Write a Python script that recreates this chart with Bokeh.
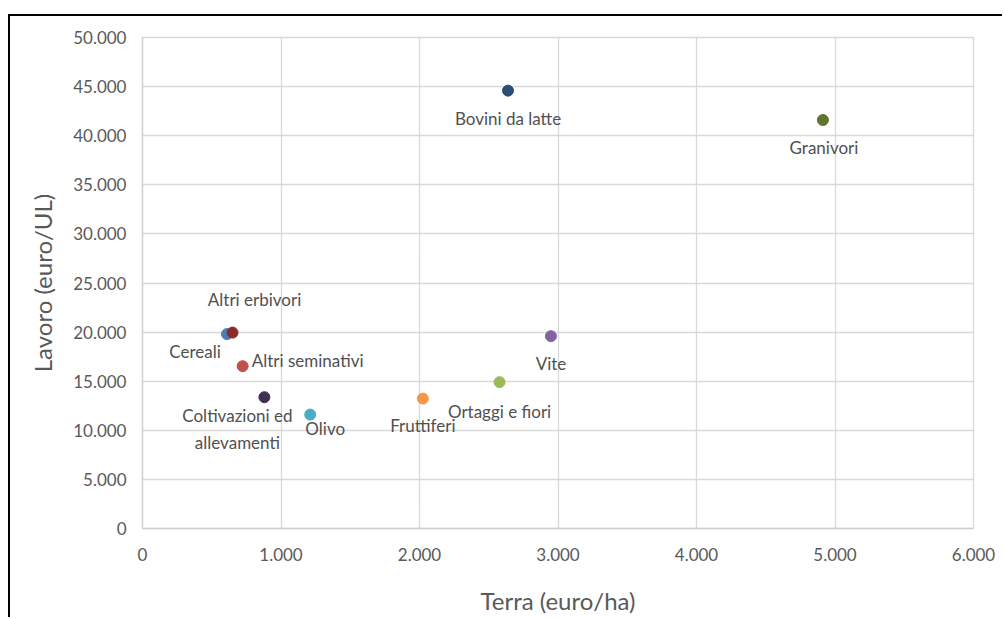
from bokeh.plotting import figure
from bokeh.models import Range1d, FixedTicker, ColumnDataSource
from bokeh.core.properties import value
from bokeh.embed import file_html
from bokeh.resources import INLINE

# ---- data ----
categories = ["Cereali", "Altri erbivori", "Altri seminativi", "Coltivazioni ed\nallevamenti",
              "Olivo", "Fruttiferi", "Ortaggi e fiori", "Vite", "Bovini da latte", "Granivori"]
terra = [610, 650, 723, 880, 1211, 2024, 2578, 2949, 2639, 4913]
lavoro = [19800, 19950, 16530, 13370, 11600, 13230, 14900, 19590, 44590, 41600]
colors = ["#4a7ebb", "#8b2b27", "#c0504d", "#403152", "#4bacc6", "#f79646",
          "#9bbb59", "#8064a2", "#2c4d75", "#5f7530"]

x_ticks = [0, 1000, 2000, 3000, 4000, 5000, 6000]
x_tick_labels = ["0", "1.000", "2.000", "3.000", "4.000", "5.000", "6.000"]
y_ticks = [0, 5000, 10000, 15000, 20000, 25000, 30000, 35000, 40000, 45000, 50000]
y_tick_labels = ["0", "5.000", "10.000", "15.000", "20.000", "25.000", "30.000",
                 "35.000", "40.000", "45.000", "50.000"]

# label offsets in screen pixels (layout only)
label_dx = [-32, 22, 65, -27, 15, 0, 0, 0, 0, 1]
label_dy = [17, -33, -6, 32, 14, 27, 29, 27, 28, 28]

FONT = "Lato"

p = figure(width=994, height=603, output_backend="svg", toolbar_location=None,
           x_range=Range1d(0, 6000), y_range=Range1d(0, 50000),
           min_border_left=132, min_border_right=31, min_border_top=21, min_border_bottom=91,
           background_fill_color="white", border_fill_color="white")
p.styles = {"margin-left": "8px", "margin-top": "14px",
            "border-top": "2px solid black", "border-left": "2px solid black"}

p.outline_line_color = "#d9d9d9"
p.outline_line_width = 1.3

for ax in (p.xaxis[0], p.yaxis[0]):
    ax.axis_line_color = "#d0d0d0"
    ax.axis_line_width = 1.3
    ax.major_tick_line_color = None
    ax.minor_tick_line_color = None
    ax.major_label_text_font = FONT
    ax.major_label_text_font_size = "17px"
    ax.major_label_text_color = "#595959"
    ax.axis_label_text_font = FONT
    ax.axis_label_text_font_size = "24px"
    ax.axis_label_text_color = "#595959"
    ax.axis_label_text_font_style = "normal"

p.xaxis.ticker = FixedTicker(ticks=x_ticks)
p.yaxis.ticker = FixedTicker(ticks=y_ticks)
p.xaxis.major_label_overrides = dict(zip(x_ticks, x_tick_labels))
p.yaxis.major_label_overrides = dict(zip(y_ticks, y_tick_labels))
p.xaxis.axis_label = "Terra (euro/ha)"
p.yaxis.axis_label = "Lavoro (euro/UL)"
p.xaxis.major_label_standoff = 13
p.yaxis.major_label_standoff = 10
p.xaxis.axis_label_standoff = 22
p.yaxis.axis_label_standoff = 13

p.xgrid.ticker = FixedTicker(ticks=x_ticks)
p.ygrid.ticker = FixedTicker(ticks=y_ticks)
p.grid.grid_line_color = "#d9d9d9"
p.grid.grid_line_width = 1.3

src = ColumnDataSource(dict(x=terra, y=lavoro, c=colors, label=categories,
                            dx=label_dx, dy=label_dy))
p.scatter("x", "y", source=src, size=11, fill_color="c", line_color="c")
p.text("x", "y", text="label", source=src, x_offset="dx", y_offset="dy",
       text_font=value(FONT), text_font_size="17px", text_color="#505050",
       text_align="center", text_baseline="middle", text_line_height=1.3)

open("out.html", "w").write(file_html(p, INLINE))
